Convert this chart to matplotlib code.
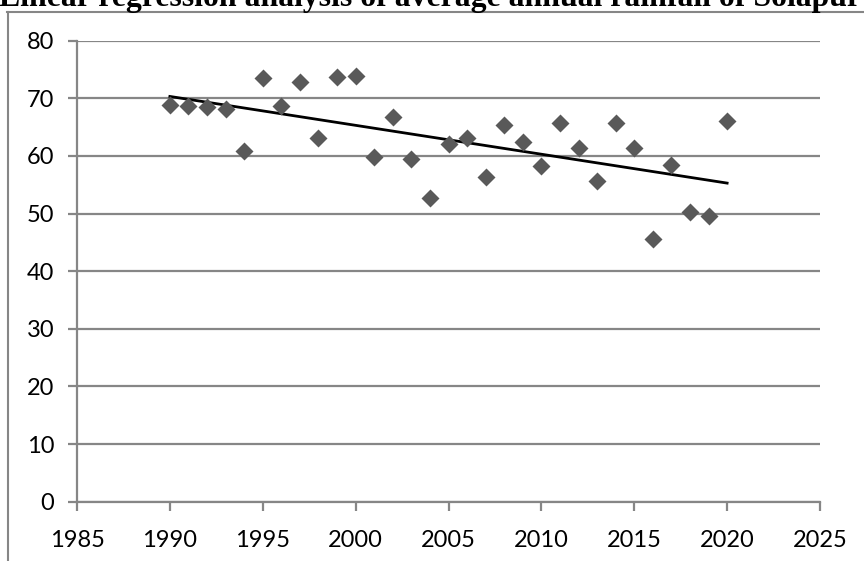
import numpy as np
import matplotlib
matplotlib.use('Agg')
import matplotlib.pyplot as plt
from matplotlib.lines import Line2D

# average annual rainfall of Solapur
years = [1990, 1991, 1992, 1993, 1994, 1995, 1996, 1997, 1998, 1999,
         2000, 2001, 2002, 2003, 2004, 2005, 2006, 2007, 2008, 2009,
         2010, 2011, 2012, 2013, 2014, 2015, 2016, 2017, 2018, 2019, 2020]
rainfall = [68.8, 68.7, 68.5, 68.1, 60.9, 73.6, 68.6, 72.9, 63.2, 73.7,
            73.8, 59.8, 66.8, 59.4, 52.7, 62.1, 63.2, 56.4, 65.3, 62.4,
            58.2, 65.7, 61.3, 55.7, 65.8, 61.4, 45.6, 58.5, 50.3, 49.6, 66.0]
xticks = [1985, 1990, 1995, 2000, 2005, 2010, 2015, 2020, 2025]
yticks = [0, 10, 20, 30, 40, 50, 60, 70, 80]
title = "Linear regression analysis of average annual rainfall of Solapur"

W, H = 864, 561
fig = plt.figure(figsize=(W / 100, H / 100), dpi=100)
ax = fig.add_axes([77 / W, 1 - 501.7 / H, (820 - 77) / W, (501.7 - 40.7) / H])

grey = '#868686'

# linear trend line
x = np.array(years)
y = np.array(rainfall)
slope, intercept = np.polyfit(x, y, 1)
xs = np.array([years[0], years[-1]])
ax.plot(xs, slope * xs + intercept, color='black', lw=2, zorder=3)

ax.plot(x, y, linestyle='none', marker='D', markersize=9.5,
        markerfacecolor='#595959', markeredgecolor='none', zorder=4)

ax.set_xlim(1985, 2025)
ax.set_ylim(0, 80)
ax.set_xticks(xticks)
ax.set_yticks(yticks)
ax.yaxis.grid(True, color=grey, lw=1.6)
ax.set_axisbelow(True)
for s in ['top', 'right']:
    ax.spines[s].set_visible(False)
for s in ['left', 'bottom']:
    ax.spines[s].set_color(grey)
    ax.spines[s].set_linewidth(1.6)
ax.tick_params(axis='both', colors=grey, length=6.5, width=1.6, direction='out',
               labelcolor='black', labelsize=17)
ax.tick_params(axis='y', pad=10)
ax.tick_params(axis='x', pad=14)
for lab in ax.get_xticklabels() + ax.get_yticklabels():
    lab.set_family('Lato')

# chart area border (runs off the right and bottom)
fig.add_artist(Line2D([7 / W, 1.0], [1 - 12 / H, 1 - 12 / H], color=grey, lw=1.5))
fig.add_artist(Line2D([7.5 / W, 7.5 / W], [0.0, 1 - 12 / H], color=grey, lw=1.5))

fig.text(-1 / W, 1 - 6 / H, title, family='Liberation Serif', weight='bold',
         fontsize=22.9, ha='left', va='baseline')

fig.savefig('out.png', dpi=100)
